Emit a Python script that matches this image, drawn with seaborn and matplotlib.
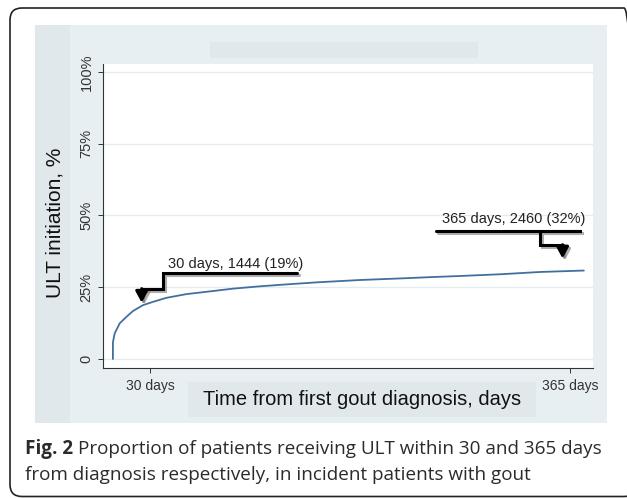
import numpy as np
import pandas as pd
import seaborn as sns
import matplotlib.pyplot as plt
import matplotlib.patheffects as pe
from matplotlib.patches import Rectangle, FancyBboxPatch
from matplotlib.transforms import IdentityTransform

# %% data
days = [0, 0, 1.4, 5.4, 10.8, 16, 24, 32, 42.7, 58.7, 74.7, 96, 117, 136,
        163, 197, 232, 253, 277, 309, 341, 376]
ult_pct = [0, 5.8, 8.9, 12.4, 14.7, 16.7, 18.75, 19.9, 21.3, 22.6, 23.4, 24.5,
           25.3, 25.9, 26.7, 27.5, 28.1, 28.5, 28.9, 29.5, 30.3, 30.8]

xtick_days = [30, 365]
xtick_labels = ["30 days", "365 days"]
ytick_vals = [0, 25, 50, 75, 100]
ytick_labels = ["0", "25%", "50%", "75%", "100%"]

note_30 = "30 days, 1444 (19%)"
note_365 = "365 days, 2460 (32%)"

caption_bold = "Fig. 2"
caption_1 = "Proportion of patients receiving ULT within 30 and 365 days"
caption_2 = "from diagnosis respectively, in incident patients with gout"

df = pd.DataFrame({"day": days, "pct": ult_pct})

# %% figure
W, H = 627, 498
sns.set_theme(style="white")
plt.rcParams["font.family"] = ["Liberation Sans", "DejaVu Sans"]

fig = plt.figure(figsize=(W / 100, H / 100), dpi=100)


def px_rect(x0, y0, x1, y1, color):
    return Rectangle((x0 / W, 1 - y1 / H), (x1 - x0) / W, (y1 - y0) / H,
                     transform=fig.transFigure, facecolor=color,
                     edgecolor="none", zorder=-5)


# stata-ish graph region
fig.patches.append(px_rect(35, 25, 607, 423, "#e8eff2"))
fig.patches.append(px_rect(35, 25, 70, 423, "#e1e8eb"))
fig.patches.append(px_rect(210, 42, 478, 58, "#e1e8ec"))
fig.patches.append(px_rect(188, 382, 536, 417, "#e1e8eb"))
fig.patches.append(FancyBboxPatch((10, 1.5), 626, 488.5,
                                  boxstyle="round,pad=0,rounding_size=12",
                                  transform=IdentityTransform(), fill=False,
                                  edgecolor="#222222", linewidth=1.2))

ax = fig.add_axes([102.7 / W, 1 - 368.3 / H, 490.3 / W, 304.3 / H])
ax.set_facecolor("white")

sns.lineplot(data=df, x="day", y="pct", ax=ax, estimator=None, sort=False,
             color="#41709f", linewidth=1.3)

ax.set_xlim(-8.15, 383.3)
ax.set_ylim(-3.23, 102.7)

ax.set_xticks(xtick_days)
ax.set_xticklabels(xtick_labels, fontsize=10, color="#333333")
ax.set_yticks(ytick_vals)
ax.set_yticklabels(ytick_labels, rotation=90, va="center", fontsize=10.5,
                   color="#333333")
ax.tick_params(axis="both", direction="out", length=3.6, width=0.7,
               color="#333333", left=True, bottom=True)
ax.tick_params(axis="x", pad=4)
ax.tick_params(axis="y", pad=3)
ax.yaxis.grid(True, color="#e3edf0", linewidth=1)
ax.set_axisbelow(True)

for side in ["top", "right"]:
    ax.spines[side].set_visible(False)
for side in ["left", "bottom"]:
    ax.spines[side].set_color("#333333")
    ax.spines[side].set_linewidth(0.8)

ax.set_xlabel("Time from first gout diagnosis, days", fontsize=14.5,
              color="#111111", va="center")
ax.xaxis.set_label_coords(0.5289, -0.1009)
ax.set_ylabel("ULT initiation, %", fontsize=15, color="#111111",
              va="center")
ax.yaxis.set_label_coords(-0.0973, 0.4775)

# %% annotations with stata-like shadow
shadow = [pe.SimpleLineShadow(offset=(1.5, -1.5), shadow_color="#777777",
                              alpha=0.6), pe.Normal()]


def pointer(path_x, path_y, tip):
    ax.plot(path_x, path_y, color="black", lw=2.2, solid_joinstyle="miter",
            path_effects=shadow)
    a = ax.annotate("", xy=tip, xytext=(path_x[-1], path_y[-1]),
                    arrowprops=dict(arrowstyle="-|>,head_length=0.55,head_width=0.3",
                                    color="black", lw=2.2, shrinkA=0,
                                    shrinkB=0, mutation_scale=12))
    a.arrow_patch.set_path_effects(shadow)


pointer([147, 40, 40, 23], [29.8, 29.8, 24.5, 24.5], (23, 19.6))
pointer([258, 374, 374, 341, 341, 359], [44.5, 44.5, 44.5, 44.5, 39.8, 39.8],
        (359, 35.0))

ax.text(44, 33.2, note_30, fontsize=10.5, color="#222222", va="center")
ax.text(263, 48.9, note_365, fontsize=10.5, color="#222222", va="center")

# %% caption
cap_font = ["Open Sans", "DejaVu Sans"]
cap_size = 13.6
t0 = fig.text(25 / W, 1 - 449 / H, caption_bold, fontsize=cap_size,
              fontweight="bold", family=cap_font, color="#2b2b2b", va="center")
r = fig.canvas.get_renderer()
bb = t0.get_window_extent(renderer=r)
fig.text((bb.x1 + 5) / W, 1 - 449 / H, caption_1, fontsize=cap_size,
         family=cap_font, color="#2b2b2b", va="center")
fig.text(25 / W, 1 - 475 / H, caption_2, fontsize=cap_size, family=cap_font,
         color="#2b2b2b", va="center")

plt.savefig("out.png", dpi=100)
plt.close()
